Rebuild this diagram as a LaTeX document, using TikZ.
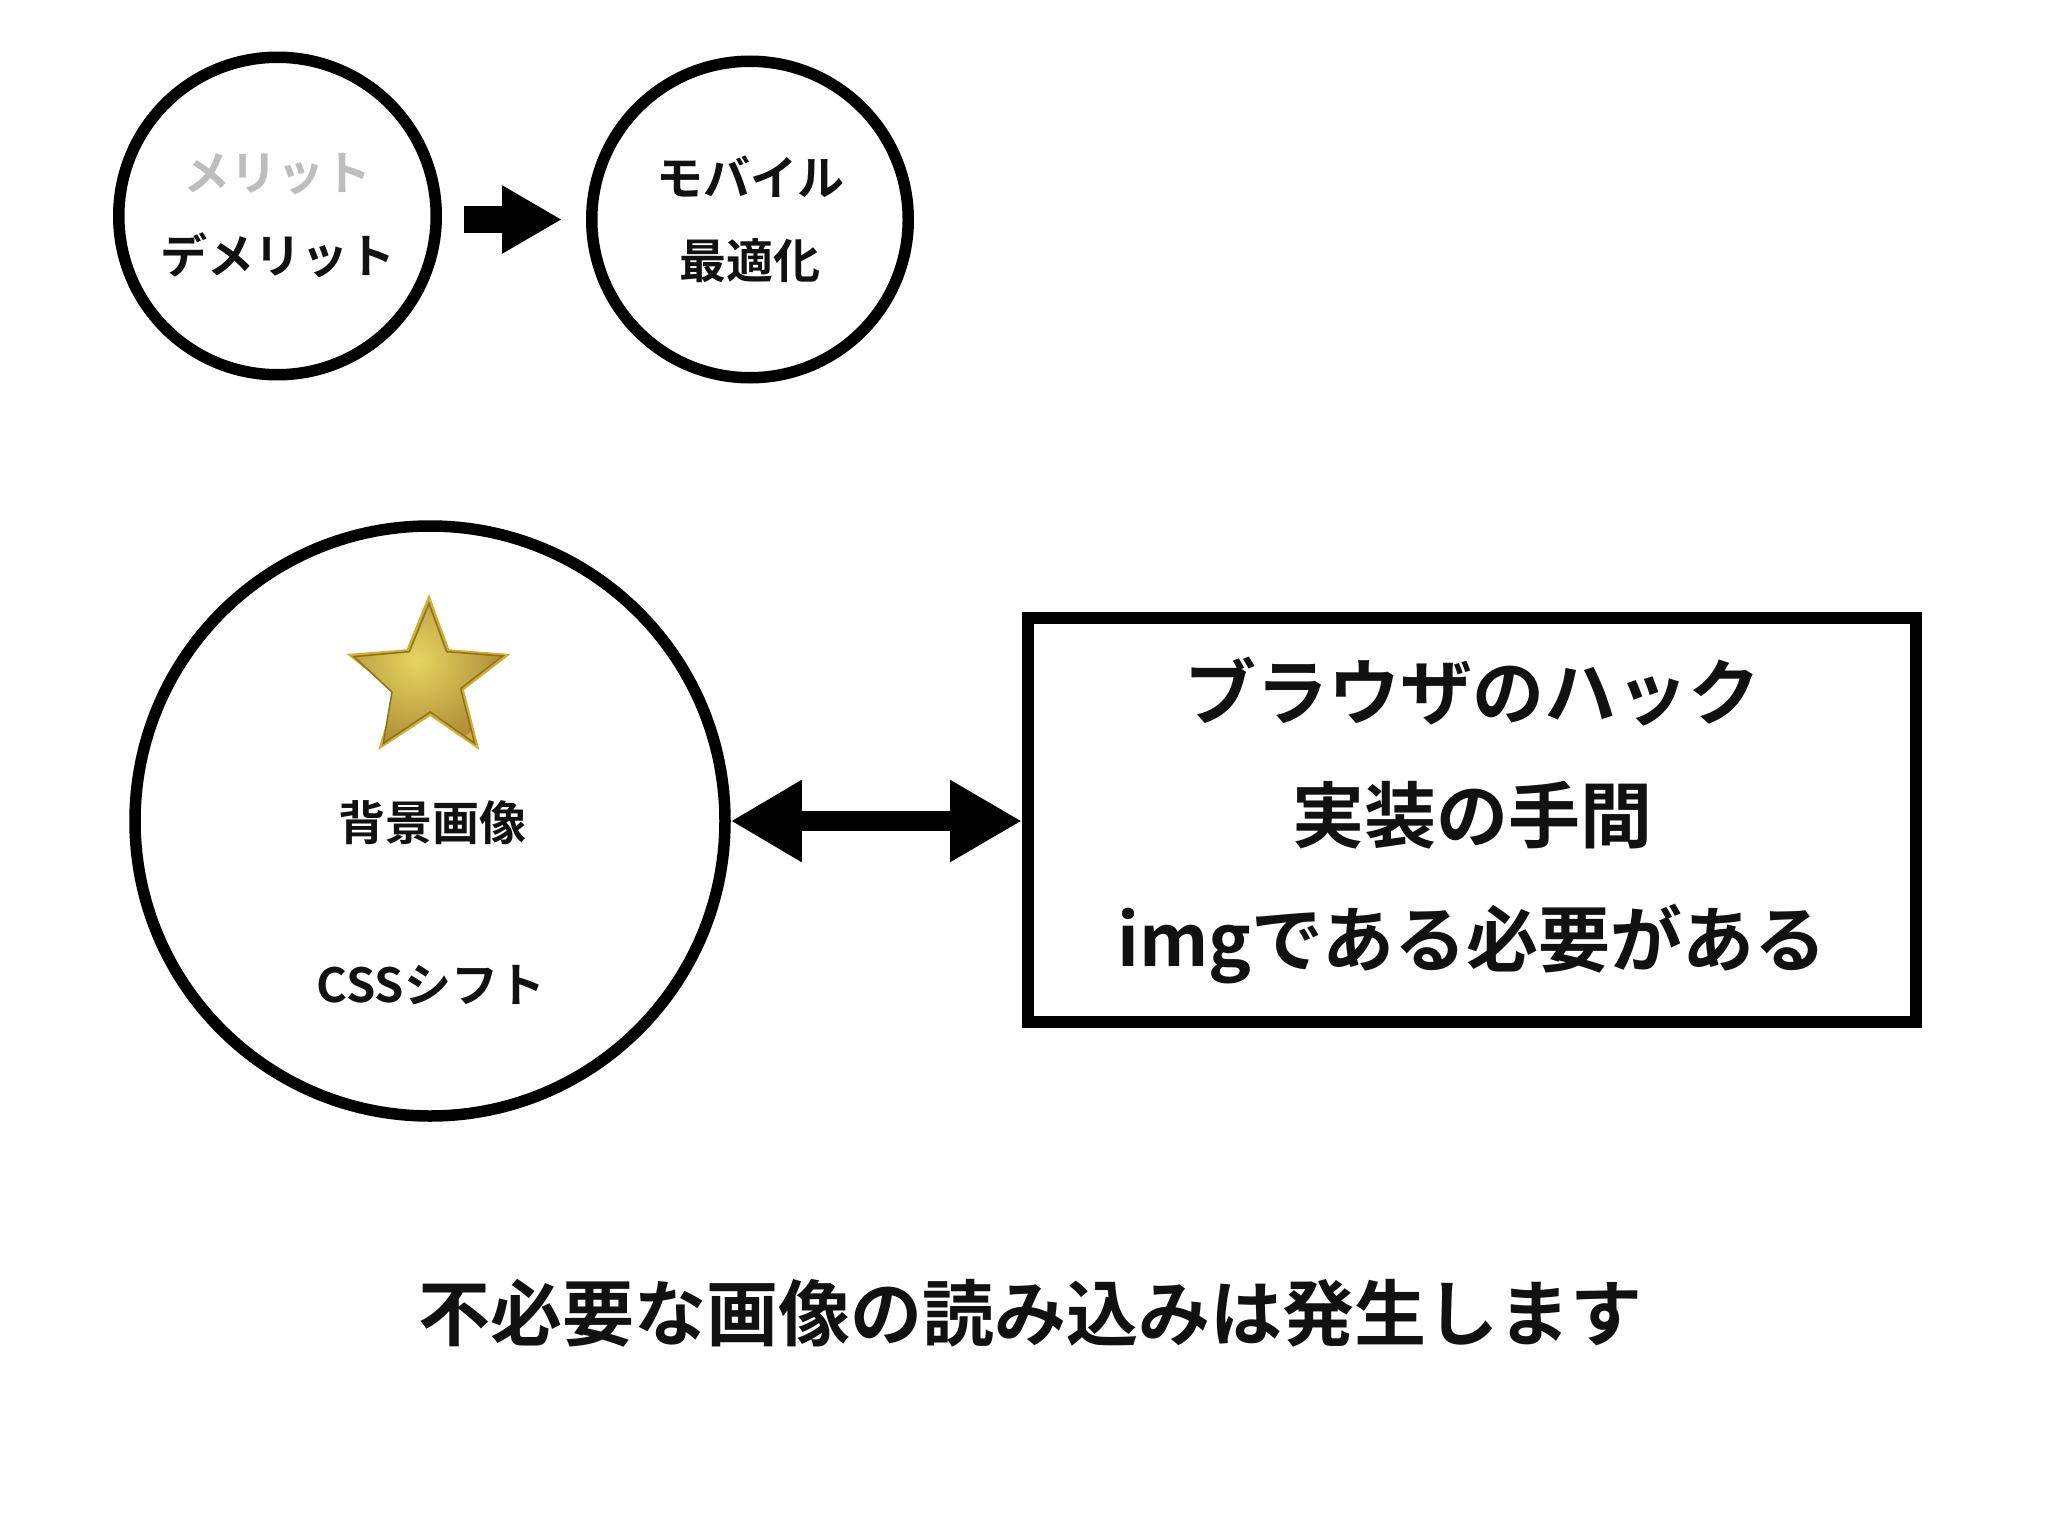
\documentclass[tikz,border=0pt]{standalone}
\usepackage{fontspec}
\usetikzlibrary{arrows.meta}
\newfontfamily\jpfont[BoldFont={Noto Sans CJK JP Bold}]{Noto Sans CJK JP}
\definecolor{ink}{HTML}{111111}
\definecolor{mutedgrey}{HTML}{BDBDBD}
\definecolor{goldrim}{HTML}{D2AE35}
\definecolor{goldline}{HTML}{8F7420}
\definecolor{goldlight}{HTML}{E6D560}
\definecolor{golddark}{HTML}{AE8B36}
\tikzset{
  ring/.style={circle,draw=black,line width=11.5pt,inner sep=0pt,text=ink,align=center,font=\jpfont\bfseries\fontsize{47}{83}\selectfont},
  panel/.style={rectangle,draw=black,line width=12pt,inner sep=0pt,text=ink,align=center,font=\jpfont\bfseries\fontsize{72}{123.5}\selectfont},
  label/.style={text=ink,inner sep=0pt,font=\jpfont\bfseries\fontsize{47}{56}\selectfont},
  headline/.style={text=ink,inner sep=0pt,font=\jpfont\bfseries\fontsize{72}{86}\selectfont},
  block/.style={draw=black,line cap=butt}
}
\begin{document}
\begin{tikzpicture}[x=1pt,y=-1pt]
\useasboundingbox (0,0) rectangle (2048,1536);
\fill[white] (0,0) rectangle (2048,1536);
% circles
\node[ring,minimum size=317.5pt] (c1) at (277.5,216) {{\color{mutedgrey}メリット}\\デメリット};
\node[ring,minimum size=316.5pt] (c2) at (750,219.5) {モバイル\\最適化};
\node[ring,minimum size=590pt] (c3) at (430,821) {};
\node[panel,minimum width=888pt,minimum height=404pt] (r) at (1472,820) {ブラウザのハック\\実装の手間\\imgである必要がある};
\node[label] (bg) at (432,823) {背景画像};
\node[label] (css) at (431,985) {CSSシフト};
\node[headline] (msg) at (1030,1313) {不必要な画像の読み込みは発生します};
% connectors
\draw[block,line width=27pt,shorten <=22pt,shorten >=24pt,-{Triangle[length=60pt,width=64pt]}] (c1.east |- c2.west) -- (c2.west);
\draw[block,line width=20pt,{Triangle[length=71pt,width=77pt]}-{Triangle[length=72pt,width=77pt]}] (c3.0.7) -- (c3.0.7 -| r.west);
% star
\begin{scope}[shift={(300,570)},x=0.3333pt,y=-0.3333pt]
\fill[goldrim] (387,72) -- (448,238) -- (632,252) -- (492,360) -- (538,540) -- (391,438) -- (235,540) -- (286,368) -- (140,252) -- (320,238) -- cycle;
\begin{scope}
\clip (387,100) -- (440,245) -- (608,258) -- (482,356) -- (524,520) -- (391,426) -- (250,520) -- (276,366) -- (162,260) -- (328,245) -- cycle;
\shade[inner color=goldlight,outer color=golddark] (350,270) circle (270);
\end{scope}
\draw[goldline,line width=1.6pt,line join=miter] (387,100) -- (440,245) -- (608,258) -- (482,356) -- (524,520) -- (391,426) -- (250,520) -- (276,366) -- (162,260) -- (328,245) -- cycle;
\end{scope}
\end{tikzpicture}
\end{document}
